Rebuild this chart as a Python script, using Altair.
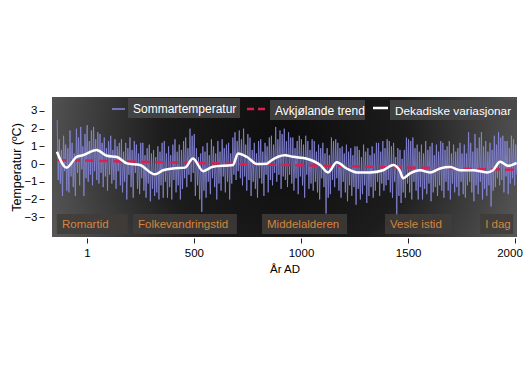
import altair as alt
import pandas as pd

W, H = 465, 140

# ---- data ----
blue_years = list(range(-138, 2008, 5))
summer_temp = [
    2.5, -0.9, 1.4, -1.1, 0.8, -1.8, 1.6, -0.4, 1.1, -1.5,
    0.9, -1.6, 1.9, -0.7, 1.2, -1.3, 0.6, -1.8, 2.0, -0.5,
    1.5, -1.2, 2.1, -0.3, 1.0, -1.8, 1.7, -0.8, 2.2, -1.0,
    1.3, -0.6, 1.9, -1.2, 2.1, -0.4, 1.4, -0.9, 1.8, -1.1,
    1.7, -0.5, 1.2, -1.3, 1.5, -0.7, 0.9, -1.5, 1.3, -0.6,
    1.6, -1.1, 0.8, -0.9, 1.4, -1.4, 1.0, -0.4, 1.2, -1.2,
    1.4, -1.6, 0.7, -1.0, 1.2, -2.0, 0.9, -0.6, 1.5, -1.3,
    0.8, -1.9, 1.3, -0.5, 1.1, -1.4, 0.6, -1.7, 1.2, -0.8,
    1.2, -1.5, 0.5, -1.9, 0.9, -1.1, 1.1, -2.1, 0.6, -1.4,
    0.8, -1.8, 0.4, -1.6, 1.0, -2.0, 0.7, -1.2, 1.2, -1.9,
    1.3, -1.0, 0.6, -1.9, 1.0, -1.3, 0.5, -2.0, 1.1, -0.9,
    1.4, -1.6, 0.7, -1.2, 1.1, -2.0, 0.8, -1.4, 1.3, -0.8,
    1.5, -1.3, 0.9, -0.6, 2.0, -1.0, 1.6, -0.5, 1.7, -1.8,
    0.9, -1.2, 0.4, -2.0, 0.6, -2.7, 1.0, -1.5, 0.7, -1.9,
    1.2, -1.0, 0.5, -1.7, 1.4, -0.8, 1.0, -1.3, 0.6, -2.0,
    1.3, -1.1, 0.7, -1.5, 1.4, -0.7, 0.9, -1.6, 1.1, -1.0,
    1.2, -2.0, 0.6, -1.1, 1.5, -0.6, 1.8, -0.9, 1.3, -0.4,
    1.9, -0.8, 1.4, -1.2, 2.0, -0.7, 1.1, -1.5, 1.7, -0.9,
    1.5, -1.8, 0.8, -1.0, 1.2, -1.4, 0.6, -1.9, 1.3, -0.8,
    1.4, -1.1, 0.7, -1.8, 1.2, -0.6, 1.0, -1.6, 1.5, -0.9,
    1.6, -1.2, 1.1, -0.5, 2.1, -1.0, 1.4, -0.6, 1.9, -1.4,
    1.7, -0.7, 2.0, -0.9, 1.3, -1.3, 1.8, -0.6, 1.5, -1.1,
    1.5, -1.5, 0.9, -0.8, 1.3, -1.7, 1.6, -0.7, 1.4, -1.2,
    1.1, -1.9, 1.6, -0.6, 1.3, -1.4, 0.8, -1.1, 1.4, -1.5,
    1.3, -1.0, 0.7, -1.6, 1.1, -2.0, 0.9, -0.8, 1.2, -1.3,
    0.6, -2.8, 0.9, -1.9, 0.5, -1.7, 1.5, -0.9, 1.3, -1.3,
    1.4, -0.8, 1.2, -1.5, 0.9, -1.9, 1.0, -1.0, 0.6, -1.6,
    1.1, -2.1, 0.7, -1.2, 0.9, -1.8, 0.5, -1.3, 1.0, -2.3,
    1.0, -1.4, 0.8, -2.0, 0.4, -1.7, 1.1, -1.2, 0.7, -2.2,
    0.9, -1.8, 0.5, -1.3, 1.0, -1.9, 0.6, -1.5, 1.2, -1.0,
    1.2, -1.8, 0.7, -1.1, 1.3, -1.5, 0.9, -1.2, 1.4, -0.9,
    1.3, -1.6, 1.0, -1.9, 1.2, -1.0, 0.4, -2.9, 0.9, -1.8,
    0.8, -2.2, 0.3, -1.6, 0.8, -1.9, 1.5, -1.1, 1.4, -1.6,
    1.3, -2.0, 1.5, -1.0, 0.9, -1.5, 1.1, -2.0, 0.7, -1.3,
    1.1, -2.0, 0.6, -1.4, 1.3, -1.7, 0.8, -1.1, 1.0, -2.1,
    1.2, -1.6, 0.5, -1.3, 1.1, -1.8, 0.7, -1.2, 1.3, -1.5,
    1.2, -1.9, 0.8, -1.0, 1.0, -1.5, 1.3, -2.0, 0.6, -1.1,
    1.1, -1.6, 0.7, -1.3, 0.9, -1.8, 1.2, -1.0, 0.6, -1.7,
    1.1, -1.9, 0.6, -1.2, 1.8, -1.0, 1.2, -1.6, 0.7, -2.1,
    1.7, -1.2, 0.9, -1.7, 1.5, -1.0, 1.8, -2.0, 1.0, -1.4,
    1.3, -1.8, 0.7, -1.2, 1.2, -2.4, 0.8, -1.5, 1.6, -1.3,
    1.1, -0.8, 1.8, -1.2, 1.5, -0.9, 1.6, -1.6, 1.3, -0.7,
    1.3, -1.7, 0.9, -1.1, 1.6, -0.8, 1.4, -1.2, 1.1, -0.6,
]

decadal_years = [-139, -94, -47, -18, 46, 94, 141, 188, 248, 318, 356, 402,
                 458, 496, 543, 589, 683, 706, 748, 795, 841, 855, 925, 963,
                 1027, 1089, 1126, 1167, 1213, 1260, 1322, 1383, 1430, 1462,
                 1476, 1509, 1556, 1602, 1649, 1696, 1742, 1803, 1868, 1896,
                 1929, 1966, 2006]
decadal_vals = [0.7, -0.2, 0.41, 0.5, 0.79, 0.47, 0.4, 0.04, -0.05, -0.58,
                -0.35, -0.25, -0.2, 0.32, -0.4, -0.15, -0.05, 0.6, 0.4, 0.0,
                0.02, 0.15, 0.5, 0.41, 0.3, -0.05, -0.47, 0.1, -0.25, -0.47,
                -0.47, -0.35, -0.05, -0.4, -0.8, -0.53, -0.35, -0.47, -0.25,
                -0.17, -0.35, -0.35, -0.47, -0.35, 0.13, -0.1, 0.07]

trend_years = [-138, 2006]
trend_vals = [0.23, -0.33]

era_names = ["Romartid", "Folkevandringstid", "Middelalderen", "Vesle istid", "I dag"]
era_start = [-139, 216, 818, 1392, 1836]
era_end = [192, 701, 1215, 1705, 1990]

legend_labels = ["Sommartemperatur", "Avkjølande trend", "Dekadiske variasjonar"]
x_ticks = [1, 500, 1000, 1500, 2000]
y_ticks = [-3, -2, -1, 0, 1, 2, 3]

FONT = "Liberation Sans"

df_blue = pd.DataFrame({"year": blue_years, "temp": summer_temp})
df_dec = pd.DataFrame({"year": decadal_years, "temp": decadal_vals})
df_trend = pd.DataFrame({"year": trend_years, "temp": trend_vals})
df_era = pd.DataFrame({"name": era_names, "year": era_start, "end": era_end})

xscale = alt.Scale(domain=[-162, 2008], nice=False, zero=False)
yscale = alt.Scale(domain=[-4.12, 3.79], nice=False, zero=False)
X = alt.X("year:Q", scale=xscale, title="År AD",
          axis=alt.Axis(values=x_ticks, tickSize=5, offset=1, labelPadding=4,
                        titlePadding=5, format="d", labelFontSize=11.5,
                        labelAlign=alt.expr("datum.value == 2000 ? 'right' : 'center'"),
                        labelOffset=alt.expr("datum.value == 2000 ? 7 : 0")))
Y = alt.Y("temp:Q", scale=yscale, title="Temperatur (ºC)",
          axis=alt.Axis(values=y_ticks, tickSize=5, offset=8, labelPadding=2,
                        titlePadding=0, labelFontSize=11.5, titleFontSize=12.5))

grad = alt.RadialGradient(
    gradient="radial", x1=0.5, y1=0.45, x2=0.5, y2=0.45, r1=0, r2=0.75,
    stops=[alt.GradientStop(color="#0c0c0c", offset=0),
           alt.GradientStop(color="#1c1c1c", offset=0.35),
           alt.GradientStop(color="#555555", offset=0.7),
           alt.GradientStop(color="#7a7a7a", offset=1)])

one = pd.DataFrame({"a": [0]})
bg = alt.Chart(one).mark_rect(fill=grad).encode(
    x=alt.value(0), x2=alt.value(W), y=alt.value(0), y2=alt.value(H))

blue = alt.Chart(df_blue).mark_line(color="#8a8ae0", strokeWidth=0.9, opacity=0.85).encode(x=X, y=Y)
trend = alt.Chart(df_trend).mark_line(color="#d8214f", strokeWidth=2.5, strokeDash=[9, 5]).encode(x=X, y=Y)
dec = alt.Chart(df_dec).mark_line(color="white", strokeWidth=2.5, interpolate="monotone").encode(x=X, y=Y)

era_box = alt.Chart(df_era).mark_rect(fill="#403c3a", opacity=0.85).encode(
    x=X, x2="end:Q", y=alt.value(117), y2=alt.value(137))
era_txt = alt.Chart(df_era).mark_text(
    align="left", baseline="middle", dx=5, font=FONT, fontSize=11.5, color="#d4843e").encode(
    x=X, y=alt.value(127.5), text="name:N")

layers = [bg, blue, trend, dec, era_box, era_txt]

# legend boxes and text (positions in pixels)
boxes = [(76, 188, 1, 21), (218, 313, 3, 23), (338, 465, 3, 23)]
sizes = [12, 12, 11.8]
for (x0, x1, y0, y1), lab, fs in zip(boxes, legend_labels, sizes):
    layers.append(alt.Chart(one).mark_rect(fill="#484848", opacity=0.85).encode(
        x=alt.value(x0), x2=alt.value(x1), y=alt.value(y0), y2=alt.value(y1)))
    layers.append(alt.Chart(one).mark_text(
        align="left", baseline="middle", font=FONT, fontSize=fs, color="white").encode(
        x=alt.value(x0 + 5), y=alt.value((y0 + y1) / 2 + 1), text=alt.value(lab)))

layers.append(alt.Chart(one).mark_rule(color="#8a8ae0", strokeWidth=1.5).encode(
    x=alt.value(60), x2=alt.value(73), y=alt.value(12)))
layers.append(alt.Chart(one).mark_rule(color="#d8214f", strokeWidth=2.5, strokeDash=[7, 4]).encode(
    x=alt.value(195), x2=alt.value(217), y=alt.value(12)))
layers.append(alt.Chart(one).mark_rule(color="white", strokeWidth=2.5).encode(
    x=alt.value(321), x2=alt.value(336), y=alt.value(11)))

chart = alt.layer(*layers).properties(
    width=W, height=H,
    padding={"left": 44, "top": 89, "right": 6, "bottom": 130},
    autosize=alt.AutoSizeParams(type="none"),
).configure_view(stroke=None).configure_axis(
    grid=False, domain=False, labelFont=FONT, titleFont=FONT,
    labelColor="#000", titleColor="#000", tickColor="#222",
    labelFontSize=11.5, titleFontSize=11.5, titleFontWeight="normal")

chart.save("out.html", embed_options={"renderer": "svg", "actions": False})
